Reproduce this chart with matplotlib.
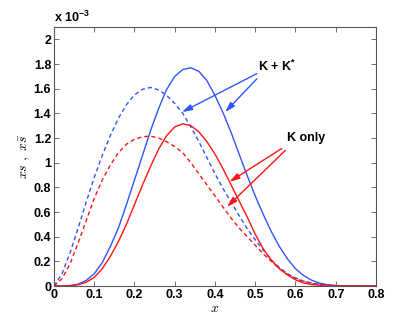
import numpy as np
import matplotlib
matplotlib.use('Agg')
import matplotlib.pyplot as plt

plt.rcParams['font.family'] = 'Liberation Sans'
plt.rcParams['mathtext.fontset'] = 'cm'

# values, in units of 1e-3
x = np.round(np.arange(0, 0.81, 0.02), 2)

# K + K*, solid (x s) and dashed (x sbar)
kk_solid = [0, 0, 0.003, 0.015, 0.045, 0.10, 0.19, 0.32, 0.47, 0.66,
            0.86, 1.06, 1.26, 1.44, 1.595, 1.70, 1.755, 1.77, 1.74, 1.665,
            1.545, 1.405, 1.245, 1.07, 0.895, 0.73, 0.58, 0.44, 0.32, 0.22,
            0.14, 0.085, 0.047, 0.023, 0.01, 0.004, 0.001, 0, 0, 0, 0]
kk_dash = [0, 0.10, 0.27, 0.47, 0.68, 0.88, 1.06, 1.22, 1.36, 1.47,
           1.55, 1.595, 1.61, 1.59, 1.545, 1.48, 1.40, 1.29, 1.17, 1.04,
           0.91, 0.79, 0.68, 0.57, 0.465, 0.375, 0.29, 0.21, 0.15, 0.10,
           0.065, 0.04, 0.025, 0.014, 0.007, 0.003, 0.001, 0, 0, 0, 0]

# K only
k_solid = [0, 0, 0.002, 0.01, 0.03, 0.07, 0.14, 0.24, 0.36, 0.50,
           0.66, 0.82, 0.97, 1.11, 1.22, 1.29, 1.315, 1.30, 1.25, 1.17,
           1.07, 0.95, 0.82, 0.69, 0.56, 0.42, 0.30, 0.21, 0.14, 0.09,
           0.05, 0.025, 0.012, 0.005, 0.002, 0, 0, 0, 0, 0, 0]
k_dash = [0, 0.06, 0.18, 0.35, 0.53, 0.71, 0.86, 0.98, 1.08, 1.15,
          1.19, 1.21, 1.215, 1.20, 1.17, 1.13, 1.08, 1.00, 0.91, 0.82,
          0.73, 0.64, 0.55, 0.47, 0.40, 0.33, 0.26, 0.20, 0.14, 0.095,
          0.06, 0.037, 0.022, 0.012, 0.006, 0.003, 0.001, 0, 0, 0, 0]

xticks = np.arange(0, 0.81, 0.1)
yticks = np.arange(0, 2.01, 0.2)

blue = '#2f55ff'
red = '#ff1414'

fig = plt.figure(figsize=(4.15, 3.22), dpi=100)
ax = fig.add_axes([0.1301, 0.1118, 0.7759, 0.8043])

lw = 1.0
ax.plot(x, kk_solid, color=blue, lw=lw)
ax.plot(x, kk_dash, color=blue, lw=lw, dashes=(3, 2.2))
ax.plot(x, k_solid, color=red, lw=lw)
ax.plot(x, k_dash, color=red, lw=lw, dashes=(3, 2.2))

ax.set_xlim(0, 0.8)
ax.set_ylim(0, 2.1)
ax.set_xticks(xticks)
ax.set_yticks(yticks)
ax.set_xticklabels(['0', '0.1', '0.2', '0.3', '0.4', '0.5', '0.6', '0.7', '0.8'])
ax.set_yticklabels(['0', '0.2', '0.4', '0.6', '0.8', '1', '1.2', '1.4', '1.6', '1.8', '2'])
ax.tick_params(direction='in', length=3.5, width=0.6, color='#555555',
               top=True, right=True, labelsize=9, pad=2)
for lab in ax.get_xticklabels() + ax.get_yticklabels():
    lab.set_fontweight('bold')
for sp in ax.spines.values():
    sp.set_color('#555555')
    sp.set_linewidth(0.8)

ax.text(0, 1.008, r'x 10$^{\mathregular{-3}}$', transform=ax.transAxes,
        fontsize=9, fontweight='bold', va='bottom', ha='left')

ax.set_xlabel(r'$x$', fontsize=10, labelpad=0)
ax.set_ylabel(r'$xs\ ,\ x\bar{s}$', fontsize=10, labelpad=1)

# labels and arrows
arr = dict(arrowstyle='-|>,head_length=0.6,head_width=0.18', lw=1.0,
           shrinkA=0, shrinkB=0)
ax.text(0.507, 1.78, r'K + K$^{\mathregular{*}}$', fontsize=9,
        fontweight='bold', va='center', ha='left')
ax.annotate('', xy=(0.318, 1.41), xytext=(0.504, 1.722),
            arrowprops=dict(arr, color=blue))
ax.annotate('', xy=(0.425, 1.41), xytext=(0.504, 1.68),
            arrowprops=dict(arr, color=blue))

ax.text(0.58, 1.20, 'K only', fontsize=9, fontweight='bold',
        va='center', ha='left')
ax.annotate('', xy=(0.436, 0.845), xytext=(0.566, 1.115),
            arrowprops=dict(arr, color=red))
ax.annotate('', xy=(0.43, 0.642), xytext=(0.575, 1.10),
            arrowprops=dict(arr, color=red))

fig.savefig('out.png', dpi=100)
